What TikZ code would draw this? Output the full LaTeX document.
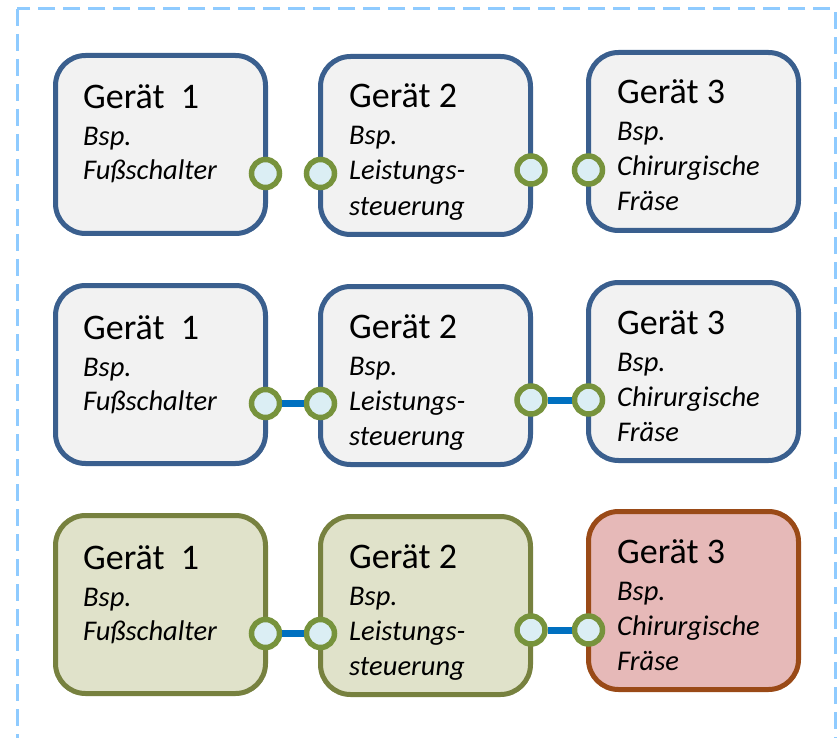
\documentclass[tikz,border=0pt]{standalone}
\usepackage{fontspec}
\setmainfont{Carlito}
\definecolor{frameblue}{HTML}{8FCBFF}
\definecolor{boxblue}{HTML}{3A5F8E}
\definecolor{boxgrey}{HTML}{F2F2F2}
\definecolor{olivedraw}{HTML}{77813F}
\definecolor{olivefill}{HTML}{E0E2CA}
\definecolor{reddraw}{HTML}{9A4A17}
\definecolor{redfill}{HTML}{E6B9B8}
\definecolor{portdraw}{HTML}{77933C}
\definecolor{portfill}{HTML}{DBEEF4}
\definecolor{linkblue}{HTML}{0070C0}
\tikzset{
  devbase/.style={rectangle, rounded corners=30pt, line width=5pt, minimum width=210pt, minimum height=178pt, inner sep=0pt},
  bluebox/.style={devbase, draw=boxblue, fill=boxgrey},
  greenbox/.style={devbase, draw=olivedraw, fill=olivefill},
  redbox/.style={devbase, draw=reddraw, fill=redfill},
  titletext/.style={inner sep=0pt, anchor=base west, font=\fontsize{36}{40}\selectfont},
  subtext/.style={inner sep=0pt, anchor=base west, font=\fontsize{28.5}{34}\selectfont\itshape},
  port/.style={circle, draw=portdraw, fill=portfill, line width=5.5pt, minimum size=28pt, inner sep=0pt},
  link/.style={draw=linkblue, line width=7pt},
  frame/.style={draw=frameblue, line width=3pt, dash pattern=on 17pt off 8pt}
}
\newcommand\devtwo[7]{%
  \node[#4] (#1) at (#2+107.5, #3+91.5) {};
  \node[titletext] (#1t) at (#2+30, #3+56) {#5};
  \node[subtext] (#1a) at (#2+30, #3+93) {#6};
  \node[subtext] (#1b) at (#2+30, #3+127) {#7};
}
\newcommand\devthree[8]{%
  \node[#4] (#1) at (#2+107.5, #3+91.5) {};
  \node[titletext] (#1t) at (#2+31, #3+54) {#5};
  \node[subtext] (#1a) at (#2+31, #3+91) {#6};
  \node[subtext] (#1b) at (#2+31, #3+126) {#7};
  \node[subtext] (#1c) at (#2+31, #3+161) {#8};
}
\begin{document}
\begin{tikzpicture}[x=1pt, y=-1pt]
\useasboundingbox (0,0) rectangle (838,738);
\begin{scope}
\clip (0,0) rectangle (838,738);
\draw[frame] (17,9) rectangle (835,760);
\end{scope}
% row 1
\devtwo{Aa}{53}{53}{bluebox}{Gerät~~1}{Bsp.}{Fußschalter}
\devthree{Ab}{318}{54}{bluebox}{Gerät 2}{Bsp.}{Leistungs-}{steuerung}
\devthree{Ac}{586}{50}{bluebox}{Gerät 3}{Bsp.}{Chirurgische}{Fräse}
% row 2
\devtwo{Ba}{53}{283}{bluebox}{Gerät~~1}{Bsp.}{Fußschalter}
\devthree{Bb}{318}{284}{bluebox}{Gerät 2}{Bsp.}{Leistungs-}{steuerung}
\devthree{Bc}{586}{280}{bluebox}{Gerät 3}{Bsp.}{Chirurgische}{Fräse}
% row 3
\devtwo{Ca}{53}{513}{greenbox}{Gerät~~1}{Bsp.}{Fußschalter}
\devthree{Cb}{318}{514}{greenbox}{Gerät 2}{Bsp.}{Leistungs-}{steuerung}
\devthree{Cc}{586}{509}{redbox}{Gerät 3}{Bsp.}{Chirurgische}{Fräse}
% ports
\node[port] (pA1) at (265.5,173.5) {};
\node[port] (pA2) at (320.5,173.5) {};
\node[port] (pA3) at (531,170) {};
\node[port] (pA4) at (588.5,170) {};
\node[port] (pB1) at (265.5,403.5) {};
\node[port] (pB2) at (320.5,403.5) {};
\node[port] (pB3) at (531,400) {};
\node[port] (pB4) at (588.5,400) {};
\node[port] (pC1) at (265.5,633.5) {};
\node[port] (pC2) at (320.5,633.5) {};
\node[port] (pC3) at (531,630) {};
\node[port] (pC4) at (588.5,630) {};
% links
\draw[link] (pB1) -- (pB2);
\draw[link] (pB3) -- (pB4);
\draw[link] (pC1) -- (pC2);
\draw[link] (pC3) -- (pC4);
\end{tikzpicture}
\end{document}
